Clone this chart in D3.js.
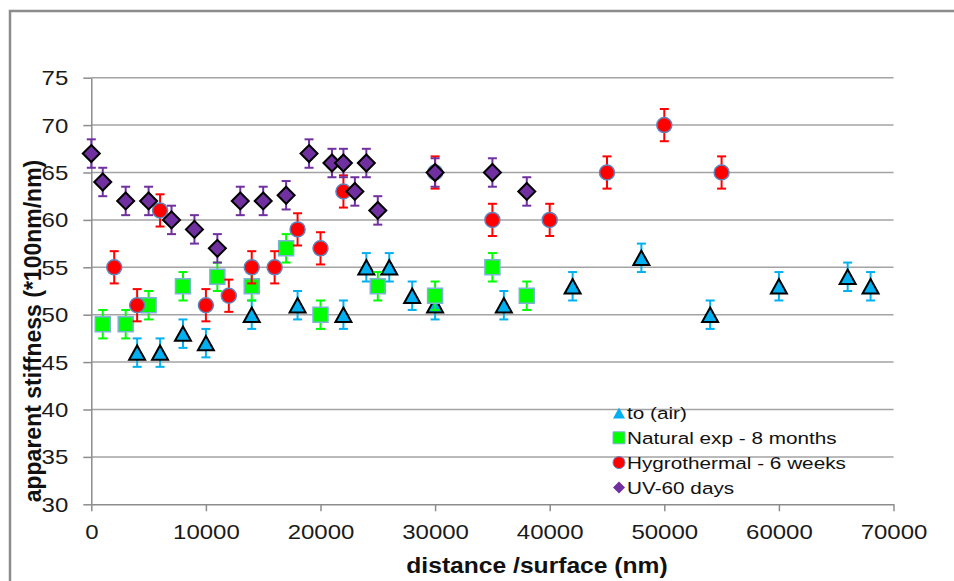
<!DOCTYPE html>
<html>
<head>
<meta charset="utf-8">
<script src="https://cdn.jsdelivr.net/npm/d3@7"></script>
<style>
  html, body { margin: 0; padding: 0; background: #fff; }
  svg { display: block; font-family: "Liberation Sans", Arial, sans-serif; }
</style>
</head>
<body>
<div id="container"></div>
<script>
// data
const airX = [4000, 6000, 8000, 10000, 14000, 18000, 22000, 24000, 26000, 28000, 30000, 36000, 42000, 48000, 54000, 60000, 66000, 68000];
const airY = [46, 46, 48, 47, 50, 51, 50, 55, 55, 52, 51, 51, 53, 56, 50, 53, 54, 53];

const natX = [1000, 3000, 5000, 8000, 11000, 14000, 17000, 20000, 25000, 30000, 35000, 38000];
const natY = [49, 49, 51, 53, 54, 53, 57, 50, 53, 52, 55, 52];

const hygX = [2000, 4000, 6000, 10000, 12000, 14000, 16000, 18000, 20000, 22000, 30000, 35000, 40000, 45000, 50000, 55000];
const hygY = [55, 51, 61, 51, 52, 55, 55, 59, 57, 63, 65, 60, 60, 65, 70, 65];

const uvX = [0, 1000, 3000, 5000, 7000, 9000, 11000, 13000, 15000, 17000, 19000, 21000, 22000, 23000, 24000, 25000, 30000, 35000, 38000];
const uvY = [67, 64, 62, 62, 60, 59, 57, 62, 62, 62.6, 67, 66, 66, 63, 66, 61, 65, 65, 63];

// error bar half length per series (air, natural, hygro, uv)
const errors = [1.5, 1.5, 1.7, 1.5];
const seriesNames = ["to (air)", "Natural exp - 8 months", "Hygrothermal - 6 weeks", "UV-60 days"];

const xTicks = [0, 10000, 20000, 30000, 40000, 50000, 60000, 70000];
const yTicks = [30, 35, 40, 45, 50, 55, 60, 65, 70, 75];

const width = 954;
const height = 581;
const stretch = 1.2; // the original text is wider than normal

const svg = d3.select("#container")
  .append("svg")
  .attr("width", width)
  .attr("height", height);

// outer chart frame (cut by the picture on the right and bottom)
svg.append("rect")
  .attr("x", 10)
  .attr("y", 11)
  .attr("width", 1000)
  .attr("height", 700)
  .attr("fill", "none")
  .attr("stroke", "#8c8c8c")
  .attr("stroke-width", 2.5);

const xScale = d3.scaleLinear().domain([0, 70000]).range([91.3, 893.5]);
const yScale = d3.scaleLinear().domain([30, 75]).range([504.3, 77.7]);

// gridlines
svg.append("g")
  .selectAll("line")
  .data(yTicks.slice(1))
  .enter()
  .append("line")
  .attr("x1", xScale(0))
  .attr("x2", xScale(70000))
  .attr("y1", d => yScale(d))
  .attr("y2", d => yScale(d))
  .attr("stroke", "#a3a3a3")
  .attr("stroke-width", 1.5);

// y axis
const yAxis = d3.axisLeft(yScale).tickValues(yTicks).tickSize(8).tickSizeOuter(0);
const gy = svg.append("g")
  .attr("transform", `translate(${xScale(0)},0)`)
  .call(yAxis);

// x axis
const xAxis = d3.axisBottom(xScale).tickValues(xTicks).tickSize(7).tickSizeOuter(0).tickFormat(d3.format("d"));
const gx = svg.append("g")
  .attr("transform", `translate(0,${yScale(30)})`)
  .call(xAxis);

[gx, gy].forEach(g => {
  g.select(".domain").attr("stroke", "#8c8c8c").attr("stroke-width", 1.5);
  g.selectAll(".tick line").attr("stroke", "#8c8c8c").attr("stroke-width", 1.5);
  g.selectAll(".tick text")
    .attr("fill", "#1a1a1a")
    .style("font-size", "20px")
    .attr("x", null)
    .attr("y", null)
    .attr("dy", null);
});
gy.selectAll(".tick text")
  .attr("text-anchor", "end")
  .attr("transform", `translate(-23,7) scale(${stretch},1)`);
gx.selectAll(".tick text")
  .attr("text-anchor", "middle")
  .attr("transform", `translate(0,35) scale(${stretch},1)`);

// axis titles
svg.append("text")
  .attr("transform", `translate(537,573) scale(1.12,1)`)
  .attr("text-anchor", "middle")
  .style("font-size", "22px")
  .style("font-weight", "bold")
  .attr("fill", "#111")
  .text("distance /surface (nm)");

svg.append("text")
  .attr("transform", `translate(41,331) rotate(-90)`)
  .attr("text-anchor", "middle")
  .style("font-size", "23px")
  .style("font-weight", "bold")
  .attr("fill", "#111")
  .text("apparent stiffness (*100nm/nm)");

// marker shapes
function markerPath(kind, s) {
  const h = s / 2;
  if (kind === "triangle") return `M0,${-h * 0.9}L${h},${h * 0.9}L${-h},${h * 0.9}Z`;
  if (kind === "square") return `M${-h},${-h}H${h}V${h}H${-h}Z`;
  if (kind === "diamond") return `M0,${-h}L${h},0L0,${h}L${-h},0Z`;
  const p = d3.path();
  p.arc(0, 0, h, 0, 2 * Math.PI);
  return p.toString();
}

const series = [
  { xs: airX, ys: airY, kind: "triangle", fill: "#00b0f0", stroke: "#000", sw: 2, err: "#00b0f0", size: 16 },
  { xs: natX, ys: natY, kind: "square", fill: "#00ff00", stroke: "#7fb2d8", sw: 1.5, err: "#00ff00", size: 15 },
  { xs: hygX, ys: hygY, kind: "circle", fill: "#ff0000", stroke: "#5f84bd", sw: 1.5, err: "#ff0000", size: 15 },
  { xs: uvX, ys: uvY, kind: "diamond", fill: "#7030a0", stroke: "#000", sw: 2, err: "#7030a0", size: 17 }
];

series.forEach((s, si) => {
  const pts = s.xs.map((x, i) => ({ x: x, y: s.ys[i] }));
  const e = errors[si];
  const g = svg.append("g");

  const eb = g.selectAll(".err")
    .data(pts)
    .enter()
    .append("g")
    .attr("stroke", s.err)
    .attr("stroke-width", 2)
    .attr("fill", "none");
  eb.append("line")
    .attr("x1", d => xScale(d.x))
    .attr("x2", d => xScale(d.x))
    .attr("y1", d => yScale(d.y + e))
    .attr("y2", d => yScale(d.y - e));
  [1, -1].forEach(sign => {
    eb.append("line")
      .attr("x1", d => xScale(d.x) - 4.5)
      .attr("x2", d => xScale(d.x) + 4.5)
      .attr("y1", d => yScale(d.y + sign * e))
      .attr("y2", d => yScale(d.y + sign * e));
  });

  g.selectAll(".mark")
    .data(pts)
    .enter()
    .append("path")
    .attr("d", markerPath(s.kind, s.size))
    .attr("transform", d => `translate(${xScale(d.x)},${yScale(d.y)})`)
    .attr("fill", s.fill)
    .attr("stroke", s.stroke)
    .attr("stroke-width", s.sw)
    .attr("stroke-linejoin", "miter");
});

// legend
const legend = svg.append("g").attr("transform", "translate(619,413)");
const li = legend.selectAll("g")
  .data(series)
  .enter()
  .append("g")
  .attr("transform", (d, i) => `translate(0,${i * 24.8})`);
li.append("path")
  .attr("d", d => markerPath(d.kind, 12))
  .attr("fill", d => d.fill)
  .attr("stroke", d => d.kind === "triangle" || d.kind === "diamond" ? "none" : d.stroke)
  .attr("stroke-width", 1);
li.append("text")
  .attr("transform", `translate(8,6.2) scale(1.22,1)`)
  .style("font-size", "17px")
  .attr("fill", "#111")
  .text((d, i) => seriesNames[i]);
</script>
</body>
</html>
